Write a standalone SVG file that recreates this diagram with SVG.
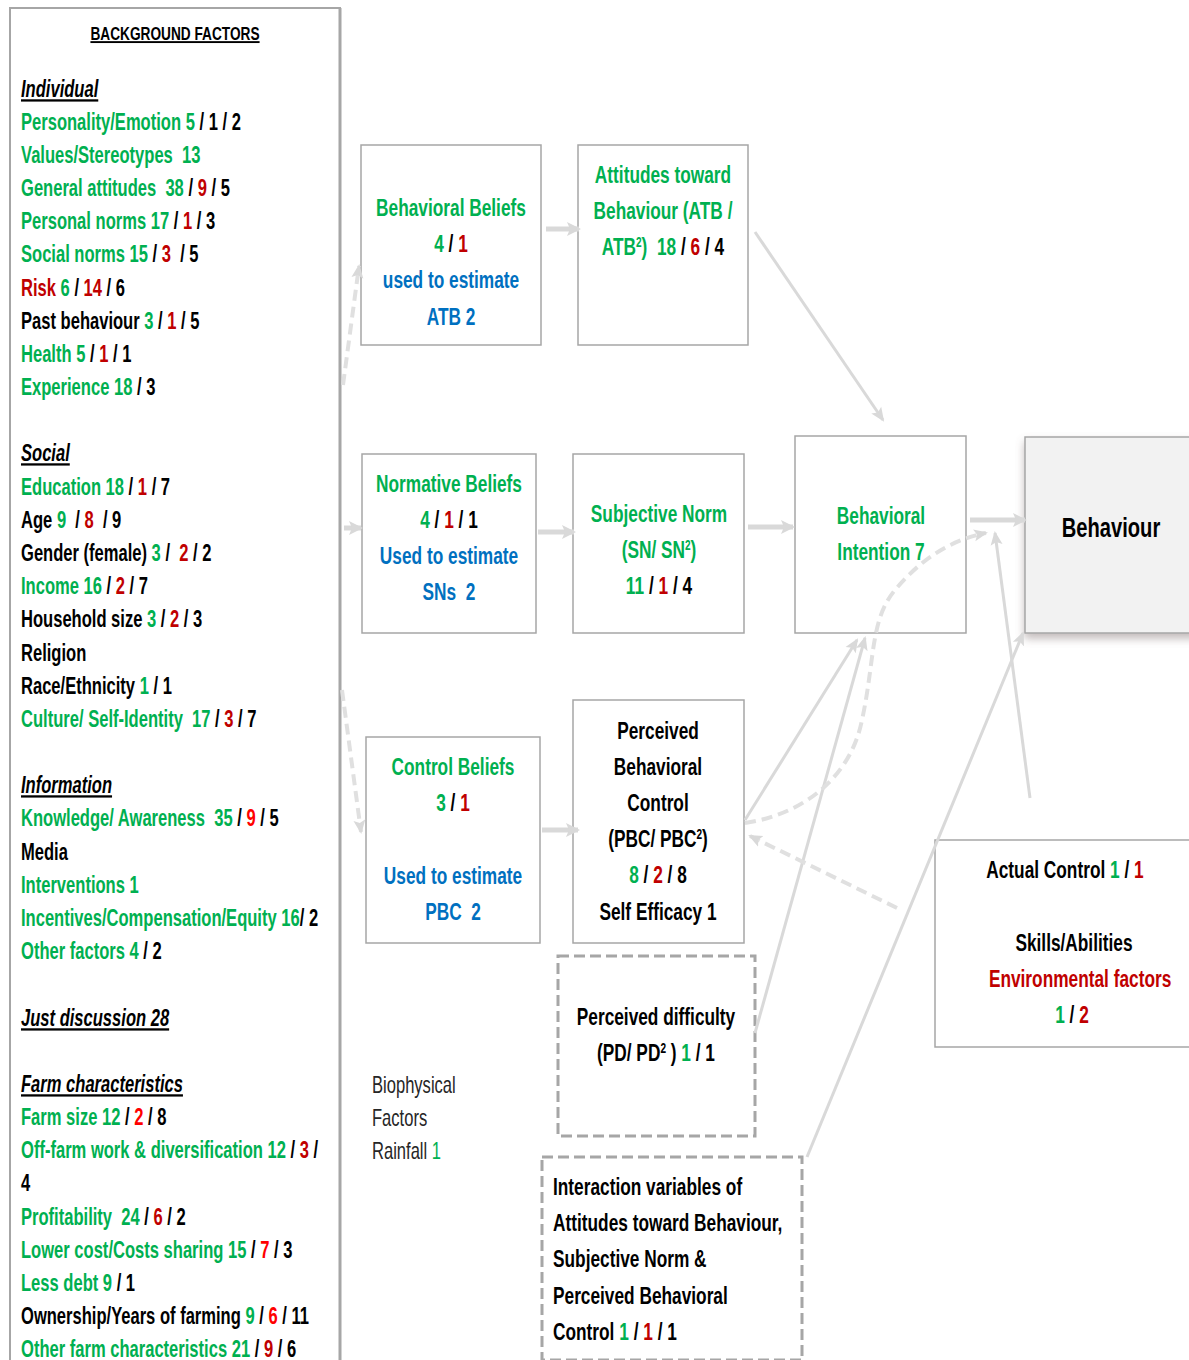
<svg xmlns="http://www.w3.org/2000/svg" width="1189" height="1360" viewBox="0 0 1189 1360">
<defs>
<style>
text{font-family:"Liberation Sans",Arial,sans-serif;font-weight:bold;font-size:23px;fill:#000;white-space:pre}
.b{font-size:24px}
.c{text-anchor:middle}
.g{fill:#00b050}
.r{fill:#c00000}
.rr{fill:#ff0000}
.bl{fill:#0070c0}
.h{font-style:italic;text-decoration:underline}
.sp{font-size:14px}
.box{fill:#fff;stroke:#a6a6a6;stroke-width:1.5}
.dbox{fill:#fff;stroke:#a6a6a6;stroke-width:3;stroke-dasharray:11 5}
.arw{stroke:#d9d9d9;stroke-width:5;fill:none}
.ln{stroke:#d9d9d9;stroke-width:3;fill:none}
.dl{stroke:#e0e0e0;stroke-width:4;fill:none;stroke-dasharray:11 6}
</style>
<marker id="ah" markerUnits="userSpaceOnUse" markerWidth="16" markerHeight="16" refX="12" refY="8" orient="auto"><path d="M0,1 L14,8 L0,15 L3,8 Z" fill="#d9d9d9"/></marker>
<marker id="ah2" markerUnits="userSpaceOnUse" markerWidth="16" markerHeight="16" refX="12" refY="8" orient="auto"><path d="M0,2 L14,8 L0,14 L3,8 Z" fill="#d9d9d9"/></marker>
<filter id="sh" x="-10%" y="-10%" width="130%" height="130%"><feDropShadow dx="0" dy="5" stdDeviation="4" flood-color="#7a6a6a" flood-opacity="0.45"/></filter>
</defs>
<rect width="1189" height="1360" fill="#fff"/>
<g id="background-factors">
<rect x="10" y="8" width="330" height="1360" fill="#fff" stroke="#a6a6a6" stroke-width="2"/>
<line x1="340" y1="8" x2="340" y2="1360" stroke="#a6a6a6" stroke-width="3"/>
<g transform="translate(175,0) scale(0.72,1)">
<text x="0" y="40" class="c" style="font-size:19px;text-decoration:underline">BACKGROUND FACTORS</text>
</g>
<g transform="translate(21,0) scale(0.72,1)">
<text x="0" y="97" class="h">Individual</text>
<text x="0" y="130"><tspan class="g">Personality/Emotion 5</tspan> / 1 / 2</text>
<text x="0" y="163" class="g">Values/Stereotypes  13</text>
<text x="0" y="196"><tspan class="g">General attitudes  38</tspan> / <tspan class="r">9</tspan> / 5</text>
<text x="0" y="229"><tspan class="g">Personal norms 17</tspan> / <tspan class="r">1</tspan> / 3</text>
<text x="0" y="262"><tspan class="g">Social norms 15</tspan> / <tspan class="r">3</tspan>  / 5</text>
<text x="0" y="296"><tspan class="r">Risk</tspan> <tspan class="g">6</tspan> / <tspan class="r">14</tspan> / 6</text>
<text x="0" y="329">Past behaviour <tspan class="g">3</tspan> / <tspan class="r">1</tspan> / 5</text>
<text x="0" y="362"><tspan class="g">Health 5</tspan> / <tspan class="r">1</tspan> / 1</text>
<text x="0" y="395"><tspan class="g">Experience 18</tspan> / 3</text>
<text x="0" y="461" class="h">Social</text>
<text x="0" y="495"><tspan class="g">Education 18</tspan> / <tspan class="r">1</tspan> / 7</text>
<text x="0" y="528">Age <tspan class="g">9</tspan>  / <tspan class="r">8</tspan>  / 9</text>
<text x="0" y="561">Gender (female) <tspan class="g">3</tspan> /  <tspan class="r">2</tspan> / 2</text>
<text x="0" y="594"><tspan class="g">Income 16</tspan> / <tspan class="r">2</tspan> / 7</text>
<text x="0" y="627">Household size <tspan class="g">3</tspan> / <tspan class="r">2</tspan> / 3</text>
<text x="0" y="661">Religion</text>
<text x="0" y="694">Race/Ethnicity <tspan class="g">1</tspan> / 1</text>
<text x="0" y="727"><tspan class="g">Culture/ Self-Identity  17</tspan> / <tspan class="r">3</tspan> / 7</text>
<text x="0" y="793" class="h">Information</text>
<text x="0" y="826"><tspan class="g">Knowledge/ Awareness  35</tspan> / <tspan class="rr">9</tspan> / 5</text>
<text x="0" y="860">Media</text>
<text x="0" y="893" class="g">Interventions 1</text>
<text x="0" y="926"><tspan class="g">Incentives/Compensation/Equity 16</tspan>/ 2</text>
<text x="0" y="959"><tspan class="g">Other factors 4</tspan> / 2</text>
<text x="0" y="1026" class="h">Just discussion 28</text>
<text x="0" y="1092" class="h">Farm characteristics</text>
<text x="0" y="1125"><tspan class="g">Farm size 12</tspan> / <tspan class="rr">2</tspan> / 8</text>
<text x="0" y="1158"><tspan class="g">Off-farm work &amp; diversification 12</tspan> / <tspan class="r">3</tspan> /</text>
<text x="0" y="1191">4</text>
<text x="0" y="1225"><tspan class="g">Profitability  24</tspan> / <tspan class="r">6</tspan> / 2</text>
<text x="0" y="1258"><tspan class="g">Lower cost/Costs sharing 15</tspan> / <tspan class="rr">7</tspan> / 3</text>
<text x="0" y="1291"><tspan class="g">Less debt 9</tspan> / 1</text>
<text x="0" y="1324">Ownership/Years of farming <tspan class="g">9</tspan> / <tspan class="rr">6</tspan> / 11</text>
<text x="0" y="1357"><tspan class="g">Other farm characteristics 21</tspan> / <tspan class="r">9</tspan> / 6</text>
</g>
</g>
<g id="behavioral-beliefs">
<rect class="box" x="361" y="145" width="180" height="200"/>
<g transform="translate(451,0) scale(0.72,1)">
<text x="0" y="216" class="b c g">Behavioral Beliefs</text>
<text x="0" y="252" class="b c"><tspan class="g">4</tspan> / <tspan class="r">1</tspan></text>
<text x="0" y="288" class="b c bl">used to estimate</text>
<text x="0" y="325" class="b c bl">ATB 2</text>
</g>
</g>
<g id="attitudes">
<rect class="box" x="578" y="145" width="170" height="200"/>
<g transform="translate(663,0) scale(0.72,1)">
<text x="0" y="183" class="b c g">Attitudes toward</text>
<text x="0" y="219" class="b c g">Behaviour (ATB /</text>
<text x="0" y="255" class="b c"><tspan class="g">ATB<tspan baseline-shift="super" class="sp">2</tspan>)  18</tspan> / <tspan class="r">6</tspan> / 4</text>
</g>
</g>
<g id="normative-beliefs">
<rect class="box" x="362" y="454" width="174" height="179"/>
<g transform="translate(449,0) scale(0.72,1)">
<text x="0" y="492" class="b c g">Normative Beliefs</text>
<text x="0" y="528" class="b c"><tspan class="g">4</tspan> / <tspan class="r">1</tspan> / 1</text>
<text x="0" y="564" class="b c bl">Used to estimate</text>
<text x="0" y="600" class="b c bl">SNs  2</text>
</g>
</g>
<g id="subjective-norm">
<rect class="box" x="573" y="454" width="171" height="179"/>
<g transform="translate(659,0) scale(0.72,1)">
<text x="0" y="522" class="b c g">Subjective Norm</text>
<text x="0" y="558" class="b c g">(SN/ SN<tspan baseline-shift="super" class="sp">2</tspan>)</text>
<text x="0" y="594" class="b c"><tspan class="g">11</tspan> / <tspan class="r">1</tspan> / 4</text>
</g>
</g>
<g id="behavioral-intention">
<rect class="box" x="795" y="436" width="171" height="197"/>
<g transform="translate(881,0) scale(0.72,1)">
<text x="0" y="524" class="b c g">Behavioral</text>
<text x="0" y="560" class="b c g">Intention 7</text>
</g>
</g>
<g id="behaviour">
<rect x="1025" y="437" width="175" height="196" fill="#f2f2f2" stroke="#a6a6a6" stroke-width="1.5" filter="url(#sh)"/>
<g transform="translate(1111,0) scale(0.72,1)">
<text x="0" y="537" class="c" style="font-size:28px">Behaviour</text>
</g>
</g>
<g id="control-beliefs">
<rect class="box" x="366" y="737" width="174" height="206"/>
<g transform="translate(453,0) scale(0.72,1)">
<text x="0" y="775" class="b c g">Control Beliefs</text>
<text x="0" y="811" class="b c"><tspan class="g">3</tspan> / <tspan class="r">1</tspan></text>
<text x="0" y="884" class="b c bl">Used to estimate</text>
<text x="0" y="920" class="b c bl">PBC  2</text>
</g>
</g>
<g id="pbc">
<rect class="box" x="573" y="700" width="171" height="243"/>
<g transform="translate(658,0) scale(0.72,1)">
<text x="0" y="739" class="b c">Perceived</text>
<text x="0" y="775" class="b c">Behavioral</text>
<text x="0" y="811" class="b c">Control</text>
<text x="0" y="847" class="b c">(PBC/ PBC<tspan baseline-shift="super" class="sp">2</tspan>)</text>
<text x="0" y="883" class="b c"><tspan class="g">8</tspan> / <tspan class="r">2</tspan> / 8</text>
<text x="0" y="920" class="b c">Self Efficacy 1</text>
</g>
</g>
<g id="perceived-difficulty">
<rect class="dbox" x="558" y="956" width="197" height="180"/>
<g transform="translate(656,0) scale(0.72,1)">
<text x="0" y="1025" class="b c">Perceived difficulty</text>
<text x="0" y="1061" class="b c">(PD/ PD<tspan baseline-shift="super" class="sp">2</tspan> ) <tspan class="g">1</tspan> / 1</text>
</g>
</g>
<g id="interaction">
<rect class="dbox" x="542" y="1157" width="260" height="203"/>
<g transform="translate(553,0) scale(0.72,1)">
<text x="0" y="1195" class="b">Interaction variables of</text>
<text x="0" y="1231" class="b">Attitudes toward Behaviour,</text>
<text x="0" y="1267" class="b">Subjective Norm &amp;</text>
<text x="0" y="1304" class="b">Perceived Behavioral</text>
<text x="0" y="1340" class="b">Control <tspan class="g">1</tspan> / <tspan class="r">1</tspan> / 1</text>
</g>
</g>
<g id="actual-control">
<rect class="box" x="935" y="840" width="260" height="207"/>
<g transform="translate(1070,0) scale(0.72,1)">
<text x="-7" y="878" class="b c">Actual Control <tspan class="g">1</tspan> / <tspan class="r">1</tspan></text>
<text x="5.5" y="951" class="b c">Skills/Abilities</text>
<text x="14" y="987" class="b c r">Environmental factors</text>
<text x="2.8" y="1023" class="b c"><tspan class="g">1</tspan> / <tspan class="r">2</tspan></text>
</g>
</g>
<g id="biophysical">
<g transform="translate(372,0) scale(0.72,1)">
<text x="0" y="1093" style="font-size:23px;font-weight:normal;fill:#262626">Biophysical</text>
<text x="0" y="1126" style="font-size:23px;font-weight:normal;fill:#262626">Factors</text>
<text x="0" y="1159" style="font-size:23px;font-weight:normal;fill:#262626">Rainfall <tspan class="g">1</tspan></text>
</g>
</g>
<g id="connectors">
<line class="dl" x1="343" y1="385" x2="359" y2="266" marker-end="url(#ah2)"/>
<line class="arw" x1="344" y1="528" x2="361" y2="528" marker-end="url(#ah)"/>
<line class="dl" x1="342" y1="690" x2="361" y2="832" marker-end="url(#ah2)"/>
<line class="arw" x1="546" y1="229" x2="579" y2="229" marker-end="url(#ah)"/>
<line class="arw" x1="538" y1="532" x2="574" y2="532" marker-end="url(#ah)"/>
<line class="arw" x1="542" y1="830" x2="578" y2="830" marker-end="url(#ah)"/>
<line class="arw" x1="748" y1="527" x2="793" y2="527" marker-end="url(#ah)"/>
<line class="arw" x1="970" y1="520" x2="1025" y2="520" marker-end="url(#ah)"/>
<line class="ln" x1="755" y1="232" x2="883" y2="420" marker-end="url(#ah2)"/>
<line class="ln" x1="745" y1="820" x2="857" y2="640" marker-end="url(#ah2)"/>
<line class="ln" x1="755" y1="1033" x2="865" y2="638" marker-end="url(#ah2)"/>
<line class="ln" x1="1030" y1="798" x2="995" y2="533" marker-end="url(#ah2)"/>
<line class="ln" x1="807" y1="1157" x2="1023" y2="633" marker-end="url(#ah2)"/>
<path class="dl" d="M745,823 C800,815 850,780 862,720 C875,660 870,620 895,590 C920,560 950,540 986,533" marker-end="url(#ah2)"/>
<line class="dl" x1="897" y1="908" x2="750" y2="836" marker-end="url(#ah2)"/>
</g>
</svg>
